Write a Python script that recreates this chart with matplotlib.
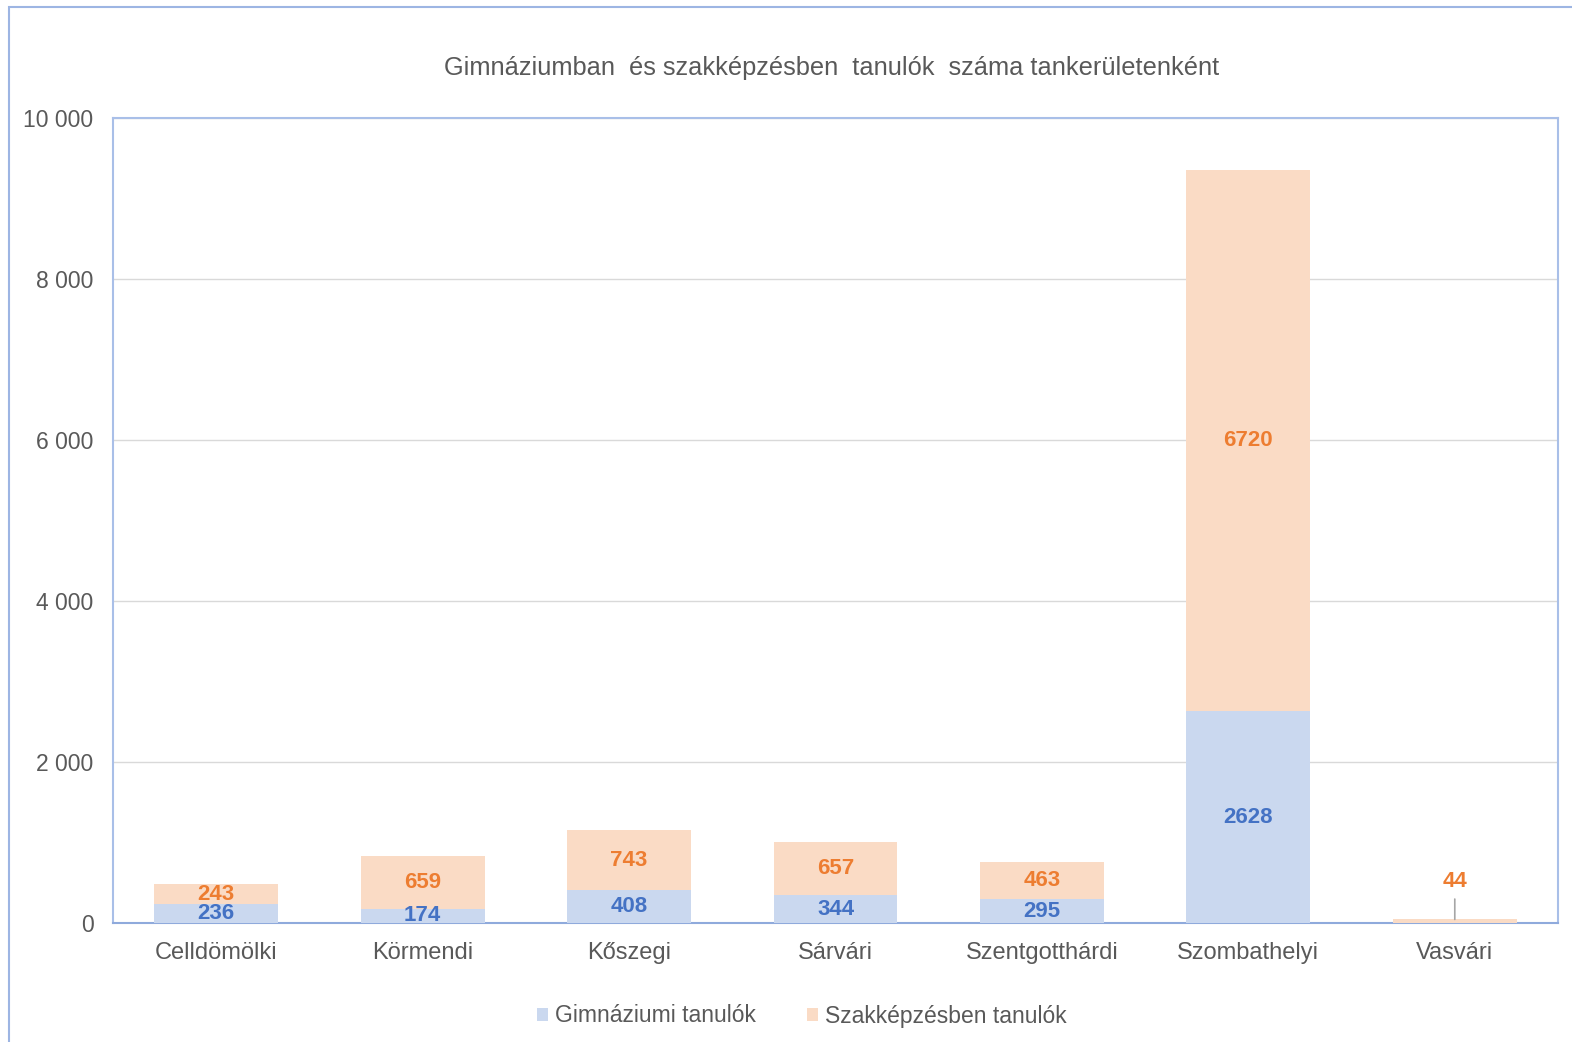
import matplotlib.pyplot as plt
from matplotlib.patches import Rectangle
from matplotlib.ticker import FuncFormatter

plt.rcParams['font.family'] = ['Liberation Sans', 'DejaVu Sans']

kategoriak = ['Celldömölki', 'Körmendi', 'Kőszegi', 'Sárvári',
              'Szentgotthárdi', 'Szombathelyi', 'Vasvári']
gimnazium = [236, 174, 408, 344, 295, 2628, 0]
szakkepzes = [243, 659, 743, 657, 463, 6720, 44]

kek = '#CAD8EF'
narancs = '#FADBC5'
kek_szoveg = '#4472C4'
narancs_szoveg = '#ED7D31'
szurke = '#595959'

fig = plt.figure(figsize=(15.72, 10.42), dpi=100)
ax = fig.add_axes([113 / 1572, 1 - 923 / 1042, 1445 / 1572, 805 / 1042])

# keret az abra korul (jobb es also szele kilog)
fig.patches.append(Rectangle((9 / 1572, -0.05), 1.2, 1 + 0.05 - 7 / 1042,
                             transform=fig.transFigure, fill=False,
                             edgecolor='#9DB5E3', linewidth=1.5))

x = list(range(len(kategoriak)))
b1 = ax.bar(x, gimnazium, width=0.6, color=kek, label='Gimnáziumi tanulók', zorder=3)
b2 = ax.bar(x, szakkepzes, width=0.6, bottom=gimnazium, color=narancs,
            label='Szakképzésben tanulók', zorder=3)

for i in x:
    if gimnazium[i] > 0:
        ax.text(i, gimnazium[i] / 2, str(gimnazium[i]), ha='center', va='center',
                color=kek_szoveg, fontsize=16, fontweight='bold', zorder=4)
    if szakkepzes[i] > 100:
        ax.text(i, gimnazium[i] + szakkepzes[i] / 2, str(szakkepzes[i]),
                ha='center', va='center', color=narancs_szoveg, fontsize=16,
                fontweight='bold', zorder=4)
    else:
        top = gimnazium[i] + szakkepzes[i]
        ax.annotate(str(szakkepzes[i]), xy=(i, top), xytext=(i, top + 470),
                    ha='center', va='center', color=narancs_szoveg, fontsize=16,
                    fontweight='bold',
                    arrowprops=dict(arrowstyle='-', color='#A6A6A6', lw=1.2,
                                    shrinkA=3, shrinkB=0))

ax.set_xlim(-0.5, len(kategoriak) - 0.5)
ax.set_ylim(0, 10000)
ax.set_yticks(range(0, 10001, 2000))
ax.yaxis.set_major_formatter(FuncFormatter(lambda v, p: f'{int(v):,}'.replace(',', ' ')))
ax.set_xticks(x)
ax.set_xticklabels(kategoriak)
ax.tick_params(axis='both', length=0, colors=szurke)
ax.tick_params(axis='x', pad=14, labelsize=17)
ax.tick_params(axis='y', pad=14, labelsize=16.5)
ax.grid(axis='y', color='#D9D9D9', linewidth=1, zorder=0)
for s in ax.spines.values():
    s.set_color('#A9BFE8')
    s.set_linewidth(1.5)
ax.spines['bottom'].set_color('#8FAADC')

fig.text(0.529, 1 - 68 / 1042, 'Gimnáziumban  és szakképzésben  tanulók  száma tankerületenként',
         ha='center', va='center', fontsize=18.3, color=szurke)

fig.legend(handles=[b1, b2], loc='center', bbox_to_anchor=(0.51, 1 - 1016 / 1042), ncol=2,
           frameon=False, fontsize=16.5, labelcolor=szurke, handlelength=0.5,
           handleheight=0.5, handletextpad=0.3, columnspacing=2.2)

fig.savefig('out.png', dpi=100)
